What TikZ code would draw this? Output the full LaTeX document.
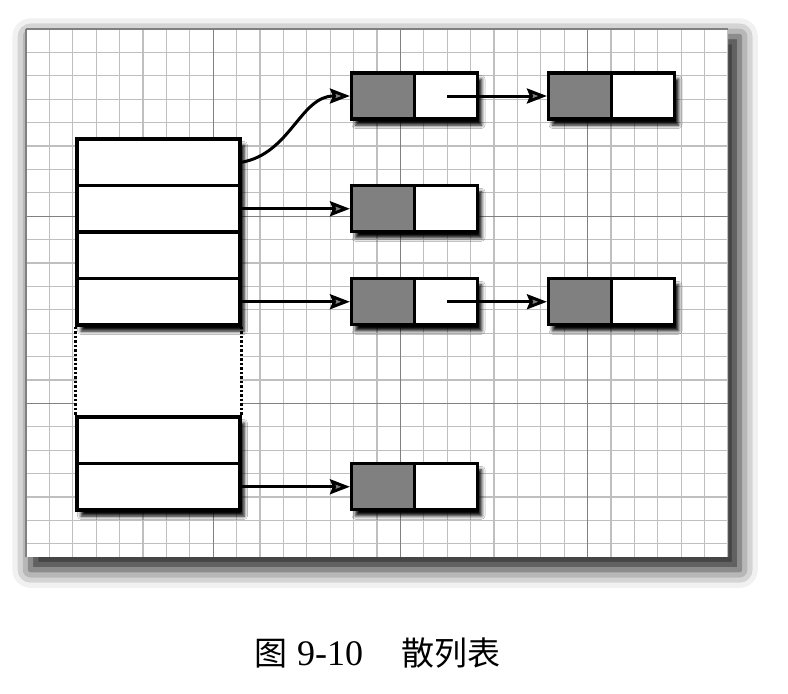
\documentclass[tikz,border=0pt]{standalone}
\usepackage{fontspec}
\newfontfamily\cjk{Noto Sans CJK SC}
\newfontfamily\digits{Liberation Serif}
\usetikzlibrary{arrows.meta,shadows.blur}

\tikzset{
  minor/.style={draw=black!25, line width=1.2pt},
  major/.style={draw=black!50, line width=1.4pt},
  dark shadow/.style={blur shadow={shadow xshift=4pt, shadow yshift=-6pt, shadow blur radius=3.5pt, shadow opacity=100}},
  cell/.style={draw=black, line width=3.2pt, fill=white, minimum width=163pt, minimum height=46.5pt, inner sep=0pt},
  entry/.style={draw=black, line width=3.2pt, fill=white, minimum width=126pt, minimum height=46pt, inner sep=0pt, dark shadow,
    path picture={
      \fill[black!50] (path picture bounding box.north west) rectangle (path picture bounding box.south);
      \draw[line width=3pt] (path picture bounding box.north) -- (path picture bounding box.south);
    }},
  link/.style={-{Stealth[length=20pt,width=15pt,inset=3pt]}, line width=3pt},
}

\begin{document}
\begin{tikzpicture}[x=1pt, y=-1pt]
  \useasboundingbox (0,0) rectangle (788,694);
  % grid paper
  \fill[white, blur shadow={shadow xshift=8pt, shadow yshift=-10pt, shadow blur radius=18pt, shadow opacity=90, shadow scale=1.01}] (26,29) rectangle (728,557);
  \begin{scope}
    \clip (25,28) rectangle (728,557);
    \foreach \i in {0,...,30} \draw[minor] ({26+23.4*\i},29) -- ({26+23.4*\i},557);
    \foreach \j in {0,...,22} \draw[minor] (26,{29+23.4*\j}) -- (728,{29+23.4*\j});
    \foreach \i in {0,8,16,24} \draw[major] ({26+23.4*\i},29) -- ({26+23.4*\i},557);
    \foreach \j in {0,8,16} \draw[major] (26,{29+23.4*\j}) -- (728,{29+23.4*\j});
  \end{scope}

  % bucket table
  \fill[white] (77,325) rectangle (240,417);
  \path[dark shadow] (77,139) rectangle (240,325);
  \path[dark shadow] (77,417) rectangle (240,510);
  \node[cell] (row1) at (158.5,162.25) {};
  \node[cell] (row2) at (158.5,208.75) {};
  \node[cell] (row3) at (158.5,255.25) {};
  \node[cell] (row4) at (158.5,301.75) {};
  \node[cell] (row5) at (158.5,440.25) {};
  \node[cell] (row6) at (158.5,486.75) {};
  \draw[line width=3pt, dash pattern=on 2.5pt off 2pt] (row4.south west) -- (row5.north west);
  \draw[line width=3pt, dash pattern=on 2.5pt off 2pt] (row4.south east) -- (row5.north east);

  % chained entries
  \node[entry] (e11) at (414.5,96) {};
  \node[entry] (e12) at (611.5,96) {};
  \node[entry] (e2)  at (414.5,208.75) {};
  \node[entry] (e31) at (414.5,301.75) {};
  \node[entry] (e32) at (611.5,301.75) {};
  \node[entry] (e4)  at (414.5,486.75) {};

  \draw[link] (row1.east) to[out=10,in=180] (e11.west);
  \draw[link] (row2.east) -- (e2.west);
  \draw[link] (row4.east) -- (e31.west);
  \draw[link] (row6.east) -- (e4.west);
  \draw[link] ([xshift=-32pt]e11.east) -- (e12.west);
  \draw[link] ([xshift=-32pt]e31.east) -- (e32.west);

  \node[anchor=base west, inner sep=0pt] (caption) at (254,665)
    {\fontsize{33}{40}\selectfont\cjk 图\hspace{10pt}{\digits\fontsize{36}{40}\selectfont 9-10}\hspace{38pt}散列表};
\end{tikzpicture}
\end{document}
